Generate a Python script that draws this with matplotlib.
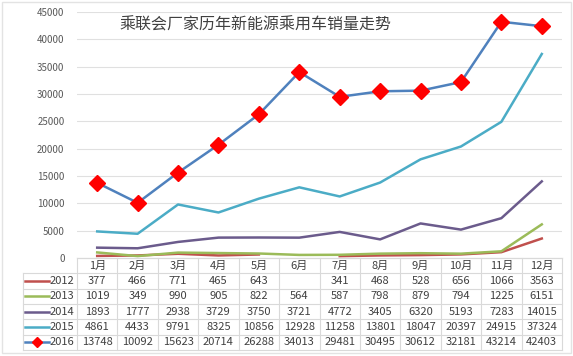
import matplotlib
matplotlib.use("Agg")
import matplotlib.pyplot as plt
import matplotlib.transforms as mtransforms
from matplotlib.lines import Line2D
from matplotlib.patches import Rectangle
import numpy as np

plt.rcParams['font.family'] = ['Noto Sans CJK SC', 'DejaVu Sans']

months = ["1月", "2月", "3月", "4月", "5月", "6月", "7月", "8月", "9月", "10月", "11月", "12月"]
years = ["2012", "2013", "2014", "2015", "2016"]
sales_2012 = [377, 466, 771, 465, 643, None, 341, 468, 528, 656, 1066, 3563]
sales_2013 = [1019, 349, 990, 905, 822, 564, 587, 798, 879, 794, 1225, 6151]
sales_2014 = [1893, 1777, 2938, 3729, 3750, 3721, 4772, 3405, 6320, 5193, 7283, 14015]
sales_2015 = [4861, 4433, 9791, 8325, 10856, 12928, 11258, 13801, 18047, 20397, 24915, 37324]
sales_2016 = [13748, 10092, 15623, 20714, 26288, 34013, 29481, 30495, 30612, 32181, 43214, 42403]
series = [sales_2012, sales_2013, sales_2014, sales_2015, sales_2016]
colors = ["#C0504D", "#9BBB59", "#6B5B8C", "#4BACC6", "#4F81BD"]
title = "乘联会厂家历年新能源乘用车销量走势"

W, H = 573, 356
fig = plt.figure(figsize=(W / 100, H / 100), dpi=100)


def fx(px):
    return px / W


def fy(py):
    return 1 - py / H


ax = fig.add_axes([fx(77), fy(258), fx(562) - fx(77), fy(12) - fy(258)])
x = np.arange(len(months))

for vals, c, yr in zip(series, colors, years):
    y = np.array([np.nan if v is None else v for v in vals], dtype=float)
    if yr == "2016":
        ax.plot(x, y, color=c, lw=1.8, marker="D", markersize=8,
                markerfacecolor="#FF0000", markeredgecolor="#FF0000", zorder=4)
    else:
        ax.plot(x, y, color=c, lw=1.8, zorder=3)

ax.set_xlim(-0.5, 11.5)
ax.set_ylim(0, 45000)
ax.set_yticks(range(0, 45001, 5000))
ax.tick_params(axis="y", length=0, labelsize=7, labelcolor="#595959", pad=9)
ax.set_xticks([])
ax.grid(axis="y", color="#E0E0E0", lw=0.8)
ax.set_axisbelow(True)
for s in ["top", "right", "left"]:
    ax.spines[s].set_visible(False)
ax.spines["bottom"].set_color("#D9D9D9")

ax.text(fx(120) / 1, fy(25), title, transform=fig.transFigure, fontsize=11.5,
        color="#404040", va="center", ha="left")

# data table under the axis
tr = mtransforms.blended_transform_factory(ax.transData, fig.transFigure)
grid_c = "#D9D9D9"
top = 258
row_h = 15.3
n_rows = len(years) + 1
edges = [top + row_h * i for i in range(n_rows + 1)]

for i, m in enumerate(months):
    fig.text(i, fy((edges[0] + edges[1]) / 2), m, transform=tr, ha="center",
             va="center", fontsize=8, color="#404040")

for r, (vals, yr, c) in enumerate(zip(series, years, colors)):
    yc = fy((edges[r + 1] + edges[r + 2]) / 2)
    for i, v in enumerate(vals):
        if v is not None:
            fig.text(i, yc, str(v), transform=tr, ha="center", va="center",
                     fontsize=8, color="#404040")
    key = Line2D([fx(25), fx(49)], [yc, yc], transform=fig.transFigure, color=c, lw=1.8)
    fig.add_artist(key)
    if yr == "2016":
        fig.add_artist(Line2D([fx(37)], [yc], transform=fig.transFigure, marker="D",
                              markersize=5, color="#FF0000", lw=0))
    fig.text(fx(50), yc, yr, ha="left", va="center", fontsize=8, color="#404040")

# horizontal table lines
for j, e in enumerate(edges):
    x0 = fx(77) if j == 0 else fx(23)
    fig.add_artist(Line2D([x0, fx(562)], [fy(e), fy(e)], transform=fig.transFigure,
                          color=grid_c, lw=0.8))
# vertical table lines
for k in range(len(months) + 1):
    fig.add_artist(Line2D([k - 0.5, k - 0.5], [fy(edges[0]), fy(edges[-1])],
                          transform=tr, color=grid_c, lw=0.8))
fig.add_artist(Line2D([fx(23), fx(23)], [fy(edges[1]), fy(edges[-1])],
                      transform=fig.transFigure, color=grid_c, lw=0.8))

fig.add_artist(Rectangle((fx(2), fy(353)), fx(569), fy(2) - fy(353),
                         transform=fig.transFigure, fill=False, ec="#E3E3E3", lw=1))

fig.savefig("out.png", dpi=100)
